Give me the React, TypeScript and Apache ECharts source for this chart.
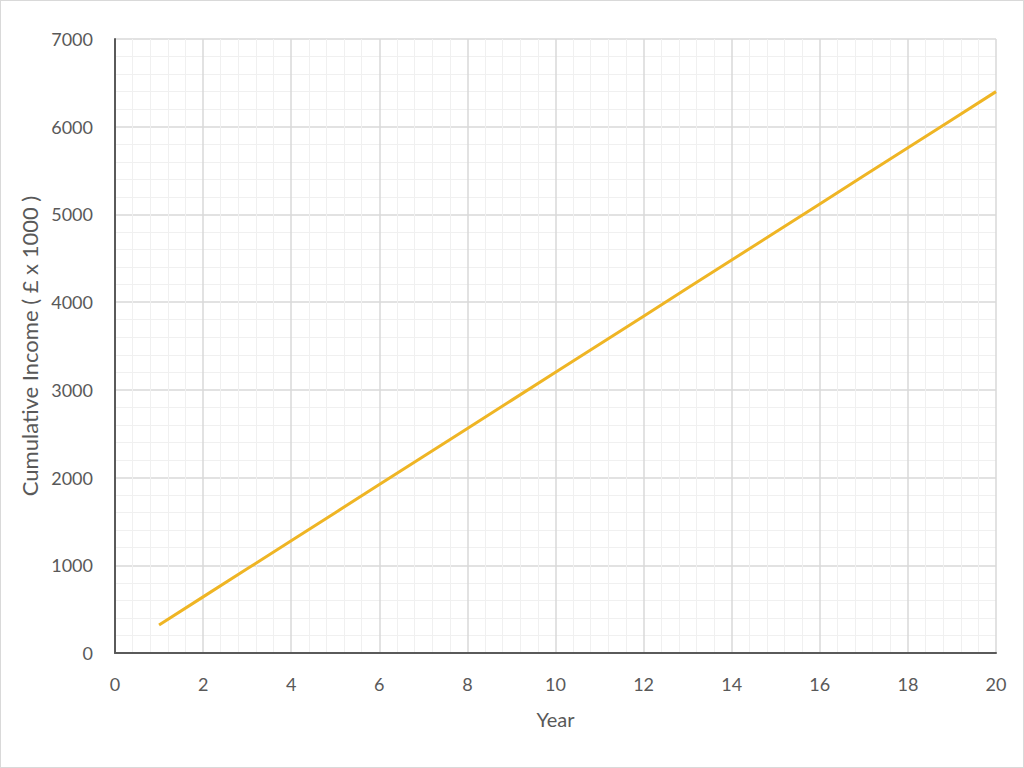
import { useEffect, useRef } from 'react';
import * as echarts from 'echarts';

const years = [1, 2, 3, 4, 5, 6, 7, 8, 9, 10, 11, 12, 13, 14, 15, 16, 17, 18, 19, 20];
const cumulativeIncome = [
  320, 640, 960, 1280, 1600, 1920, 2240, 2560, 2880, 3200,
  3520, 3840, 4160, 4480, 4800, 5120, 5440, 5760, 6080, 6400,
];

const FONT = 'Lato, "Open Sans", sans-serif';
const TEXT = '#595959';

export default function App() {
  const chartRef = useRef<HTMLDivElement>(null);

  useEffect(() => {
    document.body.style.margin = '0';
    if (!chartRef.current) return;
    const chart = echarts.init(chartRef.current, null, { renderer: 'svg' });

    chart.setOption({
      animation: false,
      backgroundColor: '#ffffff',
      grid: { left: 114, right: 27, top: 38, bottom: 114 },
      xAxis: {
        type: 'value',
        min: 0,
        max: 20,
        interval: 2,
        name: 'Year',
        nameLocation: 'middle',
        nameGap: 56,
        nameTextStyle: { color: TEXT, fontSize: 20, fontFamily: FONT },
        axisLine: { onZero: false, lineStyle: { color: '#5a5a5a', width: 2 } },
        axisTick: { show: false },
        axisLabel: { color: TEXT, fontSize: 18, fontFamily: FONT, margin: 22 },
        splitLine: { lineStyle: { color: '#d9d9d9', width: 1.5 } },
        minorTick: { show: false, splitNumber: 5 },
        minorSplitLine: { show: true, lineStyle: { color: '#f0f0f0', width: 1 } },
      },
      yAxis: {
        type: 'value',
        min: 0,
        max: 7000,
        interval: 1000,
        name: 'Cumulative Income ( £ x 1000 )',
        nameLocation: 'middle',
        nameGap: 74,
        nameTextStyle: { color: TEXT, fontSize: 22, fontFamily: FONT },
        axisLine: { show: true, lineStyle: { color: '#5a5a5a', width: 2 } },
        axisTick: { show: false },
        axisLabel: {
          color: TEXT,
          fontSize: 18,
          fontFamily: FONT,
          margin: 22,
          formatter: (v: number) => String(v),
        },
        splitLine: { lineStyle: { color: '#d9d9d9', width: 1.5 } },
        minorTick: { show: false, splitNumber: 5 },
        minorSplitLine: { show: true, lineStyle: { color: '#f0f0f0', width: 1 } },
      },
      series: [
        {
          type: 'line',
          data: years.map((y, i) => [y, cumulativeIncome[i]]),
          showSymbol: false,
          lineStyle: { color: '#efb524', width: 3 },
          itemStyle: { color: '#efb524' },
        },
      ],
    });

    return () => {
      chart.dispose();
    };
  }, []);

  return (
    <div
      ref={chartRef}
      style={{
        width: 1024,
        height: 768,
        boxSizing: 'border-box',
        border: '1px solid #d9d9d9',
      }}
    />
  );
}
